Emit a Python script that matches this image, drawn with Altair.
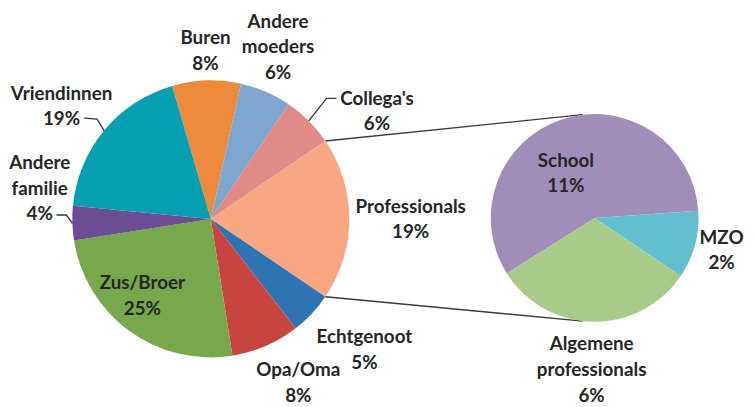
import math
import altair as alt
import pandas as pd

# ---------------- data ----------------
main_cats = ["Buren", "Andere moeders", "Collega's", "Professionals", "Echtgenoot",
             "Opa/Oma", "Zus/Broer", "Andere familie", "Vriendinnen"]
main_vals = [8, 6, 6, 19, 5, 8, 25, 4, 19]
main_text = ["Buren", "Andere\nmoeders", "Collega's", "Professionals", "Echtgenoot",
             "Opa/Oma", "Zus/Broer", "Andere\nfamilie", "Vriendinnen"]

sub_cats = ["School", "MZO", "Algemene professionals"]
sub_vals = [11, 2, 6]
sub_text = ["School", "MZO", "Algemene\nprofessionals"]

split_cat = "Professionals"

# ---------------- styles / layout ----------------
main_colors = ["#EE8A3C", "#7EA6CE", "#E08B88", "#F8A782", "#2E74B2",
               "#C8453F", "#77A84B", "#6B4D94", "#06A0B2"]
sub_colors = ["#A18DB9", "#62BFD0", "#A9CB8A"]

W, H = 746, 399
MAIN_CX, MAIN_CY, MAIN_R = 205, 211, 140
SUB_CX, SUB_CY, SUB_R = 593, 210, 105
SUB_START = -122.3
CONNECT_ANGLES = (-6.5, 186.5)

# label placement: (angle offset from slice middle in degrees, distance from centre)
main_label_pos = {
    "Buren": (0, 172), "Andere moeders": (-2.2, 188), "Collega's": (11.7, 201),
    "Professionals": (-0.4, 202), "Echtgenoot": (-3.1, 203), "Opa/Oma": (-5, 186),
    "Zus/Broer": (6.2, 103), "Andere familie": (12.4, 176), "Vriendinnen": (-2.2, 190),
}
sub_label_pos = {"School": (-13.8, 55), "MZO": (-1.5, 132), "Algemene professionals": (0.3, 152)}
# leader lines: offsets from label centre (end near text, elbow)
leaders = {
    "Vriendinnen": [(23, 13.5), (36, 14.5)],
    "Andere familie": [(17, 28.5), (27, 28.5)],
    "Collega's": [(-41, -11.5), (-51, -11.5)],
}

FONT = "Lato"
FS = 19
LH = 26
TEXT_DY = 2
TXT = "#262626"
LINE = "#3a3a3a"


def pt(cx, cy, r, deg):
    a = math.radians(deg)
    return cx + r * math.sin(a), cy - r * math.cos(a)


# slice angles derived from the data
tot = sum(main_vals)
i_split = main_cats.index(split_cat)
before = sum(main_vals[:i_split])
MAIN_START = 90 - (before + main_vals[i_split] / 2) / tot * 360


def spans(vals, start):
    out, acc = [], start
    t = sum(vals)
    for v in vals:
        a0 = acc
        acc += v / t * 360
        out.append((a0, acc))
    return out


main_spans = spans(main_vals, MAIN_START)
sub_spans = spans(sub_vals, SUB_START)

df_main = pd.DataFrame({"cat": main_cats, "value": main_vals, "idx": range(len(main_cats))})
df_sub = pd.DataFrame({"cat": sub_cats, "value": sub_vals, "idx": range(len(sub_cats))})

all_cats = main_cats + sub_cats
all_colors = main_colors + sub_colors
color = alt.Color("cat:N", scale=alt.Scale(domain=all_cats, range=all_colors), legend=None)

main_arc = alt.Chart(df_main).mark_arc(outerRadius=MAIN_R).encode(
    theta=alt.Theta("value:Q", stack=True,
                    scale=alt.Scale(range=[math.radians(MAIN_START), math.radians(MAIN_START) + 2 * math.pi])),
    order=alt.Order("idx:Q"),
    color=color,
    x=alt.value(MAIN_CX), y=alt.value(MAIN_CY),
)
sub_arc = alt.Chart(df_sub).mark_arc(outerRadius=SUB_R).encode(
    theta=alt.Theta("value:Q", stack=True,
                    scale=alt.Scale(range=[math.radians(SUB_START), math.radians(SUB_START) + 2 * math.pi])),
    order=alt.Order("idx:Q"),
    color=color,
    x=alt.value(SUB_CX), y=alt.value(SUB_CY),
)

# labels (y given for first line so that the block is centred)
rows = []
label_xy = {}


def add_label(cx, cy, c, t, v, a0, a1, pos):
    d, r = pos[c]
    x, y = pt(cx, cy, r, (a0 + a1) / 2 + d)
    label_xy[c] = (x, y)
    txt = f"{t}\n{v}%"
    n = txt.count("\n") + 1
    rows.append({"x": x, "y": y - (n - 1) * LH / 2 + TEXT_DY, "label": txt})


for c, t, v, (a0, a1) in zip(main_cats, main_text, main_vals, main_spans):
    add_label(MAIN_CX, MAIN_CY, c, t, v, a0, a1, main_label_pos)
for c, t, v, (a0, a1) in zip(sub_cats, sub_text, sub_vals, sub_spans):
    add_label(SUB_CX, SUB_CY, c, t, v, a0, a1, sub_label_pos)
df_lab = pd.DataFrame(rows)

labels = alt.Chart(df_lab).mark_text(
    font=FONT, fontSize=FS, fontWeight="bold", color=TXT, align="center", baseline="middle",
    lineBreak="\n", lineHeight=LH,
).encode(
    x=alt.X("x:Q", scale=None), y=alt.Y("y:Q", scale=None), text="label:N"
)

# connector lines between the pies
p_a0, p_a1 = main_spans[i_split]
conn = []
for a_main, a_sub in zip((p_a0, p_a1), CONNECT_ANGLES):
    x1, y1 = pt(MAIN_CX, MAIN_CY, MAIN_R, a_main)
    x2, y2 = pt(SUB_CX, SUB_CY, SUB_R, a_sub)
    conn.append({"x": x1, "y": y1, "x2": x2, "y2": y2})
df_conn = pd.DataFrame(conn)
connectors = alt.Chart(df_conn).mark_rule(color=LINE, strokeWidth=1.4).encode(
    x=alt.X("x:Q", scale=None), y=alt.Y("y:Q", scale=None),
    x2="x2:Q", y2="y2:Q",
)

# leader lines
lrows = []
for c, offs in leaders.items():
    lx, ly = label_xy[c]
    k = main_cats.index(c)
    a0, a1 = main_spans[k]
    ex, ey = pt(MAIN_CX, MAIN_CY, MAIN_R, (a0 + a1) / 2)
    pts = [(lx + offs[0][0], ly + offs[0][1]), (lx + offs[1][0], ly + offs[1][1]), (ex, ey)]
    for j, (px, py) in enumerate(pts):
        lrows.append({"cat": c, "o": j, "x": px, "y": py})
df_lead = pd.DataFrame(lrows)
leader_lines = alt.Chart(df_lead).mark_line(color=LINE, strokeWidth=1.4).encode(
    x=alt.X("x:Q", scale=None), y=alt.Y("y:Q", scale=None),
    detail="cat:N", order="o:Q",
)

chart = alt.layer(connectors, main_arc, sub_arc, leader_lines, labels).resolve_scale(
    theta="independent"
).properties(
    width=W, height=H, autosize="none", padding=0, background="white"
).configure_view(stroke=None)

chart.save("out.html", embed_options={"renderer": "svg", "actions": False})
